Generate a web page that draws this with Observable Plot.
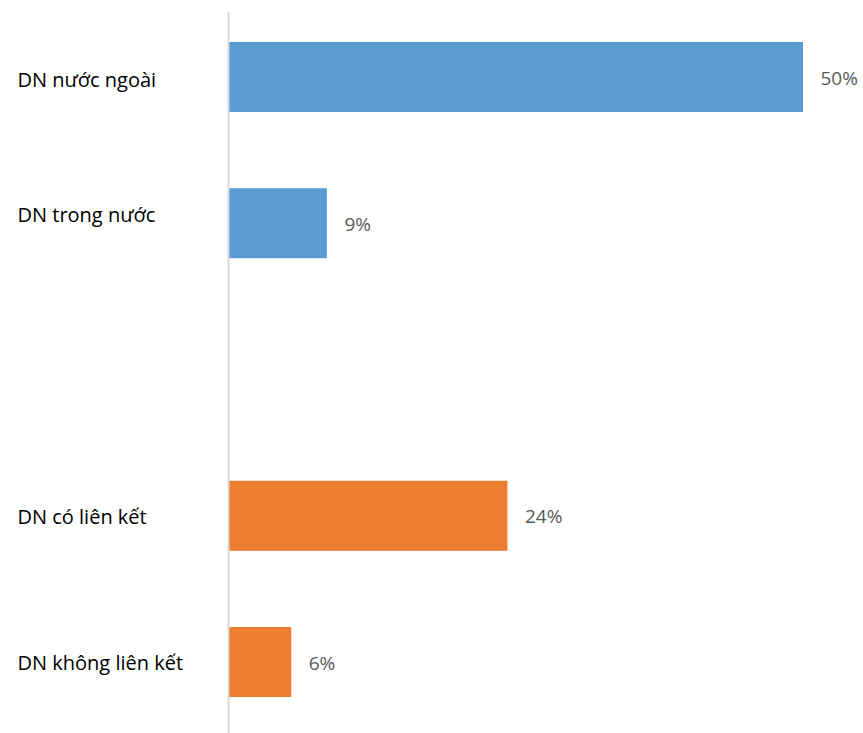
<!DOCTYPE html>
<html>
<head>
<meta charset="utf-8">
<script src="https://cdn.jsdelivr.net/npm/d3@7"></script>
<script src="https://cdn.jsdelivr.net/npm/@observablehq/plot@0.6"></script>
<style>
  html, body { margin: 0; padding: 0; background: #fff; }
  #chart svg { display: block; }
</style>
</head>
<body>
<div id="chart"></div>
<script>
const categories = ["DN nước ngoài", "DN trong nước", "", "DN có liên kết", "DN không liên kết"];
const barCategories = ["DN nước ngoài", "DN trong nước", "DN có liên kết", "DN không liên kết"];
const values = [50, 8.6, 24.3, 5.5];
const valueLabels = ["50%", "9%", "24%", "6%"];
const groups = ["Sở hữu", "Sở hữu", "Liên kết", "Liên kết"];
const groupColors = {"Sở hữu": "#5b9bd5", "Liên kết": "#ed7d31"};

const data = barCategories.map((c, i) => ({cat: c, value: values[i], label: valueLabels[i], group: groups[i]}));

const labelAxis = (ticks, dy) => Plot.axisY(ticks, {
  tickSize: 0,
  textAnchor: "start",
  dx: -202,
  dy,
  fontSize: 20,
  fill: "#000",
  label: null,
  tickFormat: d => d
});

const chart = Plot.plot({
  width: 863,
  height: 733,
  marginLeft: 228,
  marginRight: 60,
  marginTop: 6,
  marginBottom: 0,
  style: {fontFamily: "'Open Sans', sans-serif", background: "#fff"},
  x: {domain: [0, 50], axis: null},
  y: {domain: categories, paddingInner: 0.5214, paddingOuter: 0.246, round: false, axis: null, label: null},
  marks: [
    Plot.barX(data, {x: "value", y: "cat", fill: d => groupColors[d.group]}),
    Plot.ruleX([0], {stroke: "#d9d9d9", strokeWidth: 2, insetTop: 6}),
    labelAxis(["DN nước ngoài"], 3),
    labelAxis(["DN trong nước"], -8),
    labelAxis(["DN có liên kết", "DN không liên kết"], 1),
    Plot.text(data, {
      x: "value", y: "cat", text: "label",
      textAnchor: "start", dx: 17, dy: 1, fontSize: 19, fill: "#595959"
    })
  ]
});
document.getElementById("chart").appendChild(chart);
</script>
</body>
</html>
